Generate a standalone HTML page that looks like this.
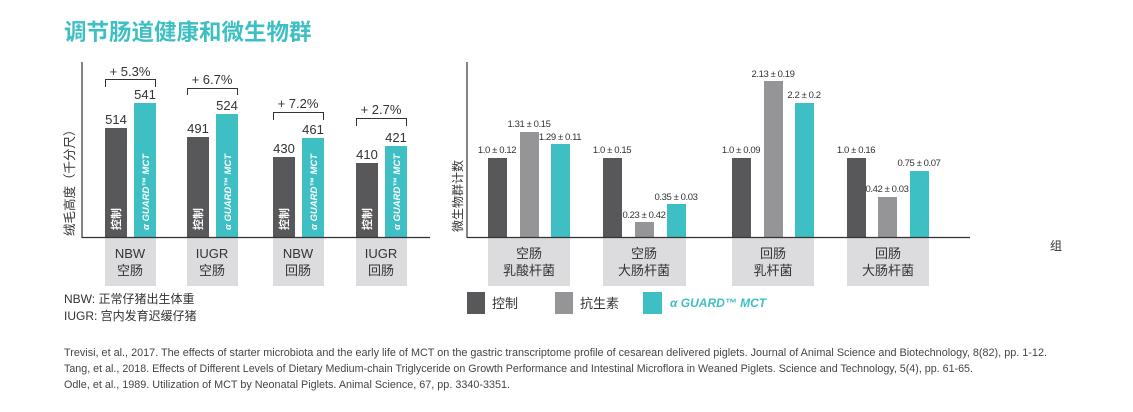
<!DOCTYPE html>
<html><head><meta charset="utf-8"><style>
html,body{margin:0;padding:0;background:#fff;}
svg{display:block;font-family:"Liberation Sans","Noto Sans CJK SC",sans-serif;}
</style></head><body>
<svg width="1133" height="412" viewBox="0 0 1133 412" xmlns="http://www.w3.org/2000/svg">
<text x="64" y="40" font-size="22.5" font-weight="bold" fill="#3dbfc4" font-family="'Noto Sans CJK SC',sans-serif">调节肠道健康和微生物群</text>

<!-- LEFT CHART -->
<g fill="#58585a">
<rect x="105" y="128" width="22" height="110"/>
<rect x="187" y="137" width="22" height="101"/>
<rect x="273" y="157" width="22" height="81"/>
<rect x="356" y="163" width="22" height="75"/>
</g>
<g fill="#3ebfc4">
<rect x="134" y="103" width="22" height="135"/>
<rect x="216" y="114" width="22" height="124"/>
<rect x="302" y="138" width="22" height="100"/>
<rect x="385" y="146" width="22" height="92"/>
</g>
<g fill="#dcdcde">
<rect x="105" y="238" width="51" height="48"/>
<rect x="187" y="238" width="51" height="48"/>
<rect x="273" y="238" width="51" height="48"/>
<rect x="356" y="238" width="51" height="48"/>
</g>
<line x1="82" y1="62" x2="82" y2="238" stroke="#333" stroke-width="1.2"/>
<line x1="82" y1="237.5" x2="430" y2="237.5" stroke="#333" stroke-width="1.2"/>
<g font-size="13" fill="#333" text-anchor="middle">
<text x="116" y="124">514</text><text x="145" y="99">541</text>
<text x="198" y="133">491</text><text x="227" y="110">524</text>
<text x="284" y="153">430</text><text x="313" y="134">461</text>
<text x="367" y="159">410</text><text x="396" y="142">421</text>
<text x="130" y="76">+ 5.3%</text>
<text x="212" y="84">+ 6.7%</text>
<text x="298" y="108">+ 7.2%</text>
<text x="381" y="114">+ 2.7%</text>
</g>
<g fill="none" stroke="#333" stroke-width="1">
<polyline points="105.5,87 105.5,79.5 155.5,79.5 155.5,87"/>
<polyline points="187.5,95 187.5,88.5 237.5,88.5 237.5,95"/>
<polyline points="273.5,120 273.5,112.5 323.5,112.5 323.5,120"/>
<polyline points="356.5,126 356.5,118.5 406.5,118.5 406.5,126"/>
</g>
<g font-size="11" fill="#fff" font-weight="bold">
<text transform="translate(120,230) rotate(-90)">控制</text>
<text transform="translate(202,230) rotate(-90)">控制</text>
<text transform="translate(288,230) rotate(-90)">控制</text>
<text transform="translate(371,230) rotate(-90)">控制</text>
<g font-style="italic" font-size="9.5">
<text transform="translate(149,230) rotate(-90)">α GUARD™ MCT</text>
<text transform="translate(231,230) rotate(-90)">α GUARD™ MCT</text>
<text transform="translate(317,230) rotate(-90)">α GUARD™ MCT</text>
<text transform="translate(400,230) rotate(-90)">α GUARD™ MCT</text>
</g></g>
<g font-size="13" fill="#333" text-anchor="middle">
<text x="130" y="258">NBW</text><text x="130" y="275">空肠</text>
<text x="212" y="258">IUGR</text><text x="212" y="275">空肠</text>
<text x="298" y="258">NBW</text><text x="298" y="275">回肠</text>
<text x="381" y="258">IUGR</text><text x="381" y="275">回肠</text>
</g>
<text transform="translate(74,236) rotate(-90)" font-size="12.5" fill="#333">绒毛高度（千分尺）</text>
<text x="64" y="303" font-size="12" fill="#333">NBW: 正常仔猪出生体重</text>
<text x="64" y="320" font-size="12" fill="#333">IUGR: 宫内发育迟缓仔猪</text>

<!-- RIGHT CHART -->
<g fill="#dcdcde">
<rect x="488" y="238" width="82" height="48"/>
<rect x="603" y="238" width="83" height="48"/>
<rect x="732" y="238" width="82" height="48"/>
<rect x="847" y="238" width="82" height="48"/>
</g>
<g fill="#58585a">
<rect x="488" y="158" width="19" height="80"/>
<rect x="603" y="158" width="19" height="80"/>
<rect x="732" y="158" width="19" height="80"/>
<rect x="847" y="158" width="19" height="80"/>
</g>
<g fill="#959598">
<rect x="520" y="132" width="19" height="106"/>
<rect x="635" y="222" width="19" height="16"/>
<rect x="764" y="81" width="19" height="157"/>
<rect x="878" y="197" width="19" height="41"/>
</g>
<g fill="#3ebfc4">
<rect x="551" y="144" width="19" height="94"/>
<rect x="667" y="204" width="19" height="34"/>
<rect x="795" y="103" width="19" height="135"/>
<rect x="910" y="171" width="19" height="67"/>
</g>
<line x1="467" y1="62" x2="467" y2="238" stroke="#333" stroke-width="1.2"/>
<line x1="467" y1="237.5" x2="970" y2="237.5" stroke="#333" stroke-width="1.2"/>
<g font-size="9.5" fill="#333" text-anchor="middle" letter-spacing="-0.4">
<text x="497" y="153">1.0 ± 0.12</text>
<text x="529" y="127">1.31 ± 0.15</text>
<text x="560" y="140">1.29 ± 0.11</text>
<text x="612" y="153">1.0 ± 0.15</text>
<text x="644" y="218">0.23 ± 0.42</text>
<text x="676" y="200">0.35 ± 0.03</text>
<text x="741" y="153">1.0 ± 0.09</text>
<text x="773" y="77">2.13 ± 0.19</text>
<text x="804" y="98">2.2 ± 0.2</text>
<text x="856" y="153">1.0 ± 0.16</text>
<text x="887" y="192">0.42 ± 0.03</text>
<text x="919" y="166">0.75 ± 0.07</text>
</g>
<g font-size="13" fill="#333" text-anchor="middle">
<text x="529" y="258">空肠</text><text x="529" y="275">乳酸杆菌</text>
<text x="644" y="258">空肠</text><text x="644" y="275">大肠杆菌</text>
<text x="773" y="258">回肠</text><text x="773" y="275">乳杆菌</text>
<text x="888" y="258">回肠</text><text x="888" y="275">大肠杆菌</text>
</g>
<text x="1050" y="250" font-size="12" fill="#333">组</text>
<text transform="translate(462,232) rotate(-90)" font-size="12" fill="#333">微生物群计数</text>
<rect x="467" y="292" width="18" height="22" fill="#58585a"/>
<rect x="555" y="292" width="18" height="22" fill="#959598"/>
<rect x="643" y="292" width="19" height="22" fill="#3ebfc4"/>
<g font-size="13" fill="#333">
<text x="492" y="308">控制</text>
<text x="580" y="308">抗生素</text>
</g>
<text x="670" y="307" font-size="12" fill="#3ebfc4" font-style="italic" font-weight="bold">α GUARD™ MCT</text>

<!-- references -->
<g font-size="11" fill="#444">
<text x="64" y="356" textLength="983" lengthAdjust="spacingAndGlyphs">Trevisi, et al., 2017. The effects of starter microbiota and the early life of MCT on the gastric transcriptome profile of cesarean delivered piglets. Journal of Animal Science and Biotechnology, 8(82), pp. 1-12.</text>
<text x="64" y="372" textLength="909" lengthAdjust="spacingAndGlyphs">Tang, et al., 2018. Effects of Different Levels of Dietary Medium-chain Triglyceride on Growth Performance and Intestinal Microflora in Weaned Piglets. Science and Technology, 5(4), pp. 61-65.</text>
<text x="64" y="388" textLength="446" lengthAdjust="spacingAndGlyphs">Odle, et al., 1989. Utilization of MCT by Neonatal Piglets. Animal Science, 67, pp. 3340-3351.</text>
</g>
</svg>
</body></html>
